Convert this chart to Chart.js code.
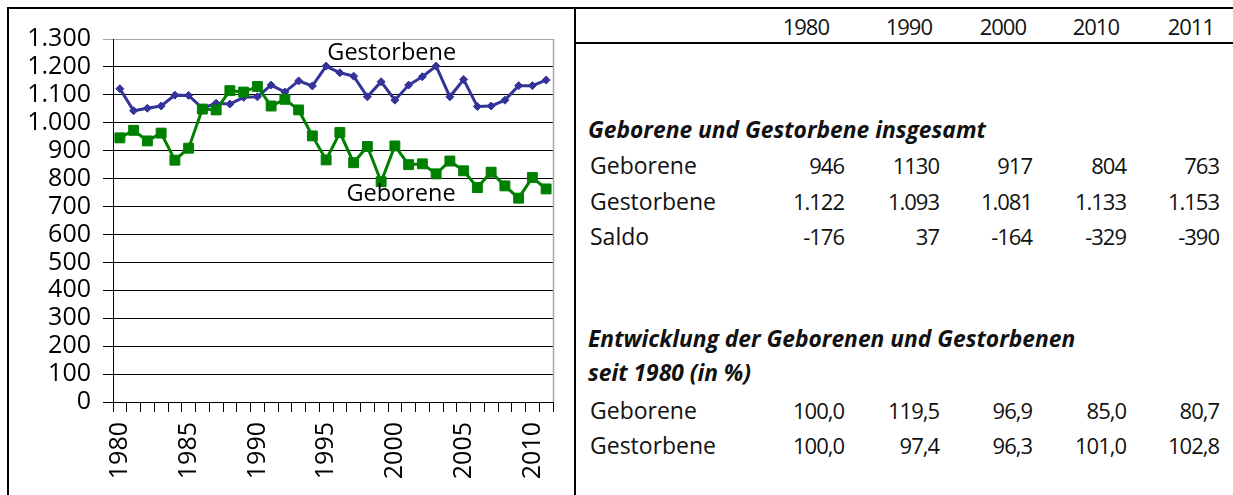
<!DOCTYPE html>
<html><head><meta charset="utf-8">
<script src="https://cdn.jsdelivr.net/npm/chart.js@4/dist/chart.umd.min.js"></script>
<style>
html,body{margin:0;padding:0;background:#fff;}
body{width:1233px;height:495px;position:relative;overflow:hidden;font-family:"Open Sans","Noto Sans",sans-serif;}
.ln{position:absolute;background:#000;}
#chartBox{position:absolute;left:0;top:0;width:575px;height:495px;}
.t{position:absolute;font-size:23px;line-height:26px;height:26px;color:#111;white-space:nowrap;}
.n{font-size:22px;letter-spacing:-1px;}
.b{font-weight:bold;font-style:italic;font-size:22.8px;letter-spacing:0;}
</style></head>
<body>
<div class="ln" style="left:7px;top:7px;width:1226px;height:2px"></div>
<div class="ln" style="left:7px;top:7px;width:2px;height:488px"></div>
<div class="ln" style="left:574px;top:7px;width:2px;height:488px"></div>
<div class="ln" style="left:575px;top:42px;width:658px;height:2px"></div>
<div id="chartBox"><canvas id="c"></canvas></div>
<div id="table"></div>
<script>
// ---- chart data ----
const years = [1980,1981,1982,1983,1984,1985,1986,1987,1988,1989,1990,1991,1992,1993,1994,1995,1996,1997,1998,1999,2000,2001,2002,2003,2004,2005,2006,2007,2008,2009,2010,2011];
const gestorbene = [1122,1043,1052,1060,1099,1098,1052,1070,1067,1091,1093,1135,1110,1150,1132,1203,1179,1167,1093,1147,1081,1135,1165,1203,1093,1155,1058,1060,1081,1133,1133,1153];
const geborene = [946,973,935,963,866,909,1049,1046,1115,1110,1130,1060,1084,1046,953,867,965,857,915,789,917,850,853,817,863,828,768,823,774,730,804,763];
const xTickLabels = [1980,1985,1990,1995,2000,2005,2010];
const yTicks = [0,100,200,300,400,500,600,700,800,900,1000,1100,1200,1300];
const seriesNames = ['Geborene','Gestorbene'];

// ---- table data ----
const tableYears = ['1980','1990','2000','2010','2011'];
const tabGeborene = ['946','1130','917','804','763'];
const tabGestorbene = ['1.122','1.093','1.081','1.133','1.153'];
const tabSaldo = ['-176','37','-164','-329','-390'];
const pctGeborene = ['100,0','119,5','96,9','85,0','80,7'];
const pctGestorbene = ['100,0','97,4','96,3','101,0','102,8'];
const title1 = 'Geborene und Gestorbene insgesamt';
const title2a = 'Entwicklung der Geborenen und Gestorbenen';
const title2b = 'seit 1980 (in %)';

// ---- table layout ----
const tbl = document.getElementById('table');
function put(text, x, yc, align, cls){
  const d = document.createElement('div');
  d.className = 't' + (cls ? ' ' + cls : '');
  d.textContent = text;
  d.style.top = (yc - 13) + 'px';
  if (align === 'right'){ d.style.left = (x - 200) + 'px'; d.style.width = '200px'; d.style.textAlign = 'right'; }
  else { d.style.left = x + 'px'; }
  tbl.appendChild(d);
}
const headRight = [829, 932, 1026, 1119, 1214];
const colRight = [844, 939, 1032, 1126, 1219];
tableYears.forEach((y,i)=>put(y, headRight[i], 26, 'right', 'n'));
put(title1, 588, 130, 'left', 'b');
[[seriesNames[0], tabGeborene, 165],[seriesNames[1], tabGestorbene, 201],['Saldo', tabSaldo, 236]].forEach(r=>{
  put(r[0], 590, r[2], 'left');
  r[1].forEach((v,i)=>put(v, colRight[i], r[2], 'right', 'n'));
});
put(title2a, 588, 339, 'left', 'b');
put(title2b, 588, 373, 'left', 'b');
[[seriesNames[0], pctGeborene, 410],[seriesNames[1], pctGestorbene, 445]].forEach(r=>{
  put(r[0], 590, r[2], 'left');
  r[1].forEach((v,i)=>put(v, colRight[i], r[2], 'right', 'n'));
});

// ---- chart ----
const plotBorder = {
  id:'plotBorder',
  afterDraw(chart){
    const {ctx, chartArea:a} = chart;
    ctx.save();
    ctx.strokeStyle = '#a6a6a6'; ctx.lineWidth = 1.5;
    ctx.beginPath(); ctx.moveTo(Math.round(a.right)+0.5, a.top); ctx.lineTo(Math.round(a.right)+0.5, a.bottom); ctx.stroke();
    ctx.restore();
  }
};
const seriesLabels = {
  id:'seriesLabels',
  afterDatasetsDraw(chart, args, opts){
    const {ctx, scales:{x,y}} = chart;
    ctx.save();
    ctx.font = '23.5px "Open Sans"';
    ctx.fillStyle = '#000';
    ctx.textAlign = 'center'; ctx.textBaseline = 'middle';
    opts.items.forEach(it=>{
      ctx.fillText(chart.data.datasets[it.ds].label, x.getPixelForValue(it.at), y.getPixelForValue(it.value));
    });
    ctx.restore();
  }
};
const FONT = {family:'"Open Sans"', size:25};
new Chart(document.getElementById('c'), {
  type:'line',
  data:{
    labels: years.map(String),
    datasets:[
      {label:seriesNames[0], data:geborene, borderColor:'#008000', backgroundColor:'#008000', borderWidth:3,
       pointStyle:'rect', pointRadius:7, pointBorderWidth:1, tension:0},
      {label:seriesNames[1], data:gestorbene, borderColor:'#333399', backgroundColor:'#333399', borderWidth:3,
       pointStyle:'rectRot', pointRadius:4, pointBorderWidth:1, tension:0}
    ]
  },
  options:{
    responsive:true, maintainAspectRatio:false, animation:false, devicePixelRatio:1,
    layout:{padding:{left:0, right:22, top:39, bottom:0}},
    plugins:{legend:{display:false}, tooltip:{enabled:false},
      seriesLabels:{items:[{ds:1, at:19.77, value:1250},{ds:0, at:20.45, value:742}]}},
    scales:{
      x:{
        offset:true,
        grid:{offset:true, drawOnChartArea:false, drawTicks:true, tickLength:10, color:'#000', lineWidth:1},
        border:{display:true, color:'#000'},
        ticks:{autoSkip:false, maxRotation:90, minRotation:90, padding:10, color:'#000', font:FONT,
          callback:(v,i)=> xTickLabels.includes(years[i]) ? String(years[i]) : ''},
        afterFit:s=>{s.height = 93; s.paddingLeft = 0; s.paddingRight = 0;}
      },
      y:{
        min:yTicks[0], max:yTicks[yTicks.length-1],
        afterBuildTicks:s=>{s.ticks = yTicks.map(v=>({value:v}));},
        grid:{color:c=> c.tick && c.tick.value===1300 ? '#a6a6a6' : '#000', lineWidth:1, tickLength:10, drawTicks:true},
        border:{display:true, color:'#000'},
        ticks:{autoSkip:false, padding:12, color:'#000', font:FONT, callback:v=>v.toLocaleString('de-DE')},
        afterFit:s=>{s.width = 113; s.paddingTop = 0; s.paddingBottom = 0;}
      }
    }
  },
  plugins:[plotBorder, seriesLabels]
});
</script>
</body></html>
